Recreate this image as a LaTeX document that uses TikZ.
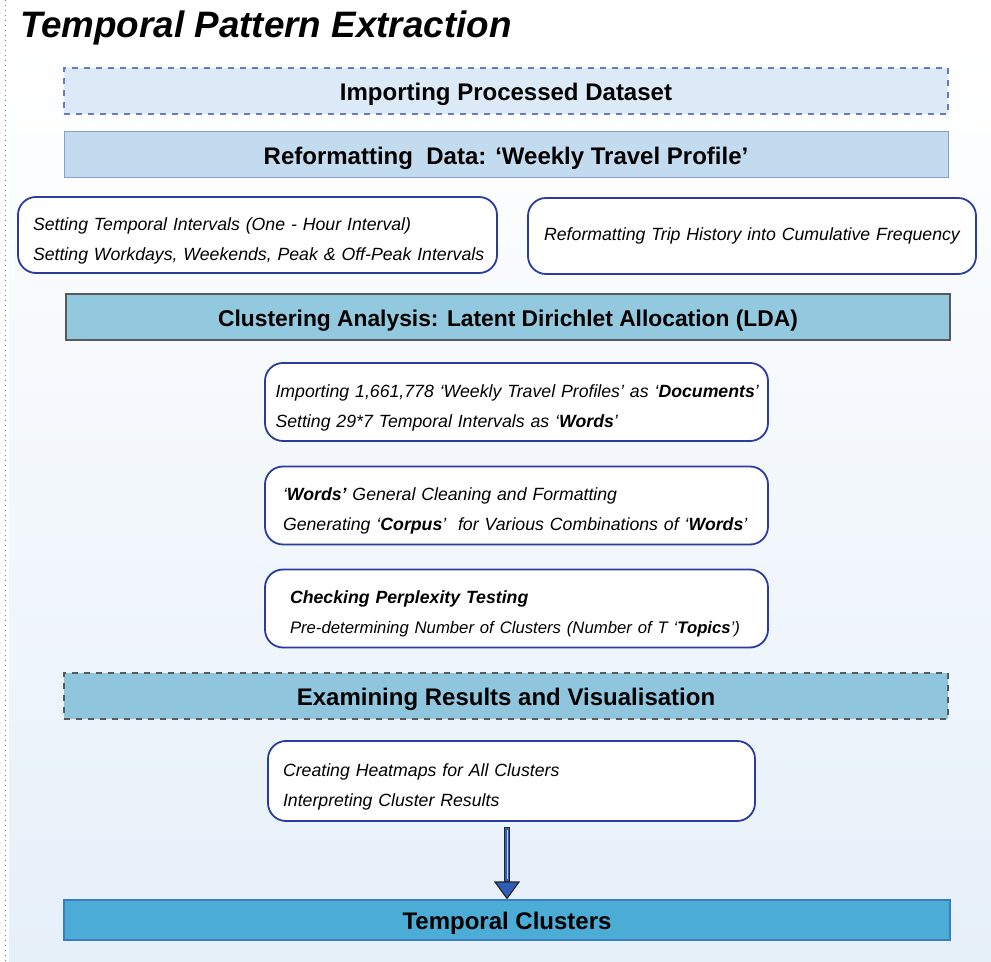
\documentclass[tikz,border=0pt]{standalone}
\usepackage{fontspec}
\setmainfont{Liberation Sans}
\usetikzlibrary{arrows.meta}

\definecolor{bgblue}{RGB}{230,240,249}
\definecolor{importfill}{RGB}{219,234,246}
\definecolor{importline}{RGB}{106,120,200}
\definecolor{reformfill}{RGB}{195,219,238}
\definecolor{reformline}{RGB}{140,156,207}
\definecolor{ldafill}{RGB}{147,201,223}
\definecolor{examfill}{RGB}{143,198,222}
\definecolor{clustfill}{RGB}{75,173,213}
\definecolor{clustline}{RGB}{59,125,196}
\definecolor{stepblue}{RGB}{43,60,158}
\definecolor{arrowblue}{RGB}{46,95,184}

\newcommand{\topgap}{\rule{0pt}{12pt}}

\tikzset{
  band/.style={minimum width=442pt, minimum height=23pt, inner sep=0pt,
    text height=10pt, text depth=0.5pt,
    font=\bfseries\fontsize{12}{14}\selectfont},
  stepbox/.style 2 args={draw=stepblue, line width=0.9pt, fill=white,
    rounded corners=9pt, minimum height=39pt, text width=#1, inner xsep=#2,
    align=left, font=\itshape\fontsize{8.85}{15}\selectfont},
  flowshaft/.style={draw=black!85, line width=3.2pt, shorten <=2.5pt,
    -{Triangle[length=9pt, width=13pt, line width=0.6pt, fill=arrowblue]}}
}

\begin{document}
\begin{tikzpicture}[x=0.5pt, y=-0.5pt]
\useasboundingbox (0,0) rectangle (991,962);
\shade[top color=white, bottom color=bgblue] (9,40) rectangle (991,962);
\draw[gray, dotted, line width=0.5pt] (5,0) -- (5,962);

\node[anchor=base west, font=\bfseries\itshape\fontsize{18.4}{22}\selectfont] (title) at (13,38) {Temporal Pattern Extraction};

% data preparation
\node[band, fill=importfill, draw=importline, dashed, line width=0.6pt] (import) at (506,91) {Importing Processed Dataset};
\node[band, fill=reformfill, draw=reformline, line width=0.5pt] (reform) at (506,155) {Reformatting\ \ Data: `Weekly Travel Profile'};

\node[stepbox={224.5pt}{7.5pt}, minimum height=38pt] (interval) at (257.5,235)
  {\topgap\mbox{Setting Temporal Intervals (One - Hour Interval)}\\\mbox{Setting Workdays, Weekends, Peak \& Off-Peak Intervals}};
\node[stepbox={212pt}{6pt}, minimum height=38pt, align=center] (cumul) at (752,236)
  {\mbox{Reformatting Trip History into Cumulative Frequency}};

% clustering
\node[band, fill=ldafill, draw=black!65, line width=0.6pt, font=\bfseries\fontsize{11.4}{14}\selectfont] (lda) at (508,317) {Clustering Analysis: Latent Dirichlet Allocation (LDA)};

\node[stepbox={241pt}{5.25pt}] (docs) at (516.5,402)
  {\topgap\mbox{Importing 1,661,778 `Weekly Travel Profiles' as `\textbf{Documents}'}\\\mbox{Setting 29*7 Temporal Intervals as `\textbf{Words}'}};
\node[stepbox={233.5pt}{9pt}] (corpus) at (516.5,505.5)
  {\topgap\mbox{`\textbf{Words'} General Cleaning and Formatting}\\\mbox{Generating `\textbf{Corpus}'\ \ for Various Combinations of `\textbf{Words}'}};
\node[stepbox={226.5pt}{12.5pt}] (perplex) at (516.5,608.5)
  {\topgap\mbox{\textbf{Checking Perplexity Testing}}\\\mbox{\fontsize{8.35}{15}\selectfont Pre-determining Number of Clusters (Number of T `\textbf{Topics}')}};

% results
\node[band, fill=examfill, draw=black!65, dashed, line width=0.6pt] (exam) at (506,696) {Examining Results and Visualisation};
\node[stepbox={228.5pt}{7.5pt}, minimum height=40pt] (heat) at (511.5,781)
  {\topgap\mbox{Creating Heatmaps for All Clusters}\\\mbox{Interpreting Cluster Results}};

\node[band, minimum width=443pt, minimum height=20pt, fill=clustfill, draw=clustline, line width=0.6pt] (clusters) at (507,920) {Temporal Clusters};

\draw[flowshaft] (clusters.north |- heat.south) -- (clusters.north);
\draw[arrowblue, line width=1.8pt, shorten <=3.2pt, shorten >=9pt] (clusters.north |- heat.south) -- (clusters.north);
\draw[white!70!arrowblue, line width=0.4pt, shorten <=4pt, shorten >=10pt] (clusters.north |- heat.south) -- (clusters.north);
\end{tikzpicture}
\end{document}
